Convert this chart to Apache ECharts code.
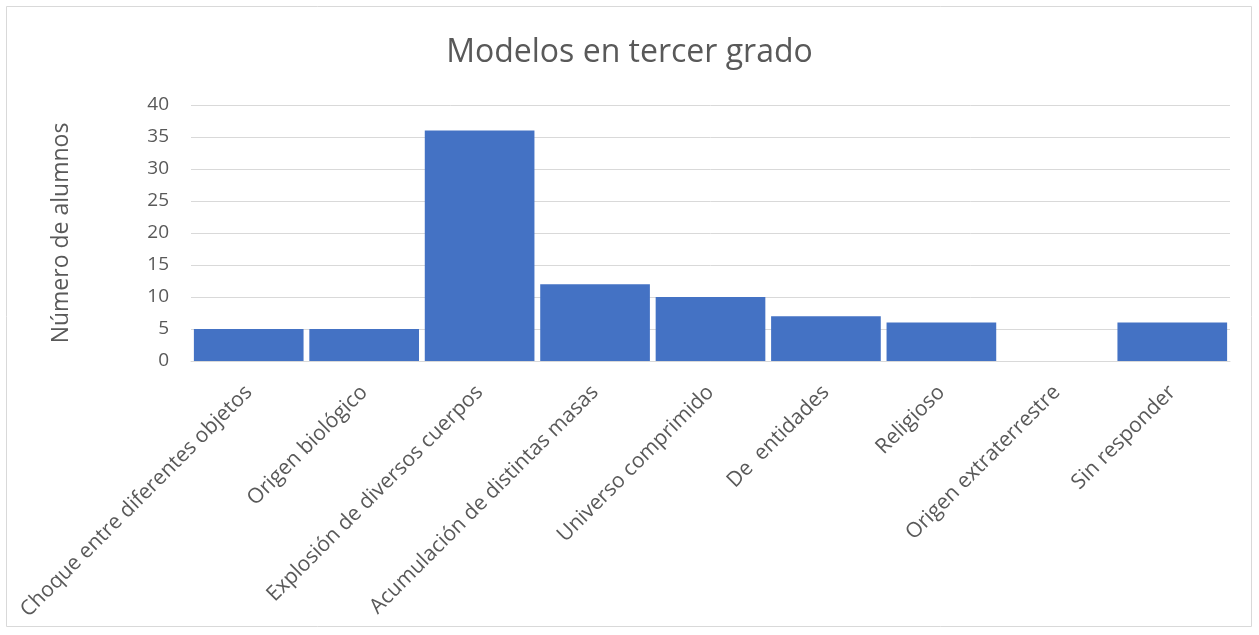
<!DOCTYPE html>
<html>
<head>
<meta charset="utf-8">
<style>
  html, body { margin: 0; padding: 0; background: #ffffff; }
  #chart { width: 1259px; height: 635px; }
</style>
<script src="https://cdn.jsdelivr.net/npm/echarts@6/dist/echarts.min.js"></script>
</head>
<body>
<div id="chart"></div>
<script>
// Categories of models and the number of students for each
const categories = [
  'Choque entre diferentes objetos',
  'Origen biológico',
  'Explosión de diversos cuerpos',
  'Acumulación de distintas masas',
  'Universo comprimido',
  'De  entidades',
  'Religioso',
  'Origen extraterrestre',
  'Sin responder'
];
const students = [5, 5, 36, 12, 10, 7, 6, 0, 6];

const titleText = 'Modelos en tercer grado';
const yAxisName = 'Número de alumnos';

const FONT = '"Open Sans", "Noto Sans", sans-serif';
const TEXT = '#595959';
const GRID = '#d9d9d9';

const chart = echarts.init(document.getElementById('chart'), null, { renderer: 'canvas' });
chart.setOption({
  backgroundColor: '#ffffff',
  animation: false,
  title: {
    text: titleText,
    left: 'center',
    top: 32,
    textStyle: { fontFamily: FONT, fontSize: 32, fontWeight: 'normal', color: TEXT }
  },
  graphic: [{
    type: 'rect',
    shape: { x: 6.5, y: 6.5, width: 1245, height: 620 },
    style: { fill: 'none', stroke: GRID, lineWidth: 1 },
    silent: true
  }],
  grid: { left: 191, right: 29, top: 105, bottom: 274, containLabel: false },
  xAxis: {
    type: 'category',
    data: categories,
    axisLine: { show: true, lineStyle: { color: GRID, width: 1 } },
    axisTick: { show: false },
    axisLabel: {
      interval: 0,
      rotate: 45,
      margin: 28,
      fontFamily: FONT,
      fontSize: 21,
      color: TEXT
    }
  },
  yAxis: {
    type: 'value',
    min: 0,
    max: 40,
    interval: 5,
    name: yAxisName,
    nameLocation: 'middle',
    nameGap: 118,
    nameTextStyle: { fontFamily: FONT, fontSize: 23, color: TEXT },
    axisLine: { show: false },
    axisTick: { show: false },
    axisLabel: { margin: 22, fontFamily: FONT, fontSize: 19, color: TEXT },
    splitLine: { lineStyle: { color: GRID, width: 1 } }
  },
  series: [{
    type: 'bar',
    data: students,
    barCategoryGap: '5%',
    itemStyle: { color: '#4472C4' }
  }]
});
</script>
</body>
</html>
